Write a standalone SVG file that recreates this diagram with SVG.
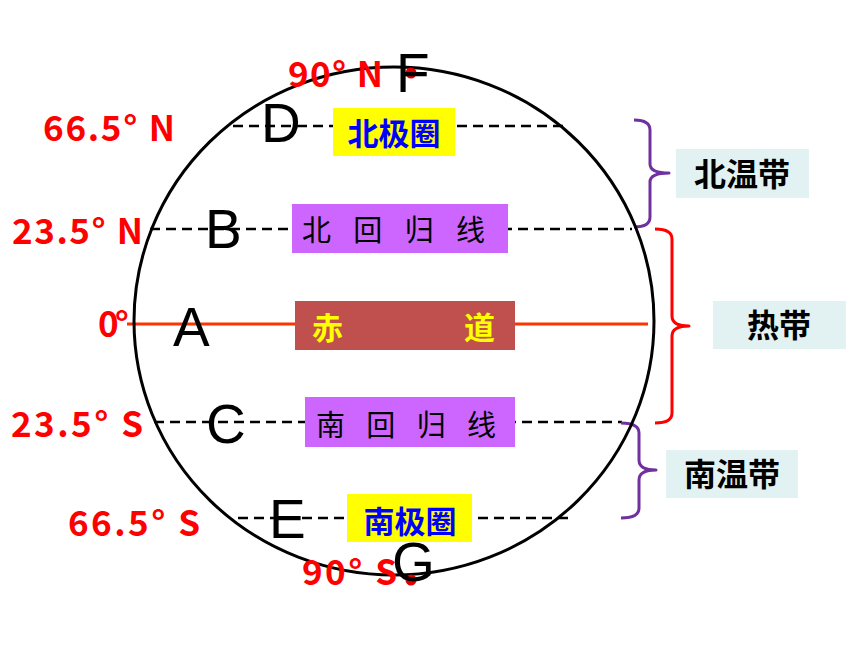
<svg xmlns="http://www.w3.org/2000/svg" width="860" height="645" viewBox="0 0 860 645">
<style>
.lat{font-family:"Noto Sans CJK SC","Liberation Sans",sans-serif;font-size:35px;font-weight:bold;fill:#FF0000}
.let{font-family:"Liberation Sans",sans-serif;font-size:55px;fill:#000}
.cjk{font-family:"Noto Sans CJK SC",sans-serif}
.dash{stroke:#000;stroke-width:2.5;stroke-dasharray:10 6;fill:none}
.brace{fill:none;stroke-width:3;stroke-linejoin:round}
.zone{fill:#E2F1F1}
.zt{font-family:"Noto Sans CJK SC",sans-serif;font-size:32px;font-weight:bold;fill:#000;text-anchor:middle}
</style>
<rect width="860" height="645" fill="#fff"/>
<g id="connectors">
<line class="dash" x1="233" y1="126" x2="565" y2="126"/>
<line class="dash" x1="150" y1="229" x2="632" y2="229"/>
<line x1="127" y1="324" x2="648" y2="324" stroke="#FF3300" stroke-width="3"/>
<line class="dash" x1="154" y1="422" x2="622" y2="422"/>
<line class="dash" x1="238" y1="518" x2="570" y2="518"/>
<path class="brace" stroke="#7030A0" d="M634,120 Q650,120 650,130 L650,164 Q650,173 669,173 Q650,173 650,182 L650,217 Q650,227 634,227"/>
<path class="brace" stroke="#FF0000" d="M655,229 Q672,229 672,239 L672,316 Q672,326 689,326 Q672,326 672,336 L672,413 Q672,423 655,423"/>
<path class="brace" stroke="#7030A0" d="M621,423 Q639,423 639,433 L639,460 Q639,470 656,470 Q639,470 639,480 L639,508 Q639,518 621,518"/>
</g>
<g id="earth">
<ellipse cx="394" cy="321" rx="260" ry="254" fill="none" stroke="#000" stroke-width="3"/>
</g>
<g id="arctic-circle">
<rect x="333" y="108" width="122" height="48" fill="#FFFF00"/>
<text class="cjk" x="394" y="145" font-size="31" font-weight="bold" fill="#0000FF" text-anchor="middle">北极圈</text>
</g>
<g id="tropic-cancer">
<rect x="292" y="204" width="216" height="49" fill="#CC66FF"/>
<text class="cjk" x="302" y="241" font-size="29" fill="#000" textLength="183" lengthAdjust="spacing">北回归线</text>
</g>
<g id="equator">
<rect x="295" y="301" width="220" height="49" fill="#C0504D"/>
<text class="cjk" font-size="31" font-weight="bold" fill="#FFFF00" y="339"><tspan x="312">赤</tspan><tspan x="464">道</tspan></text>
</g>
<g id="tropic-capricorn">
<rect x="305" y="397" width="210" height="50" fill="#CC66FF"/>
<text class="cjk" x="316" y="436" font-size="29" fill="#000" textLength="180" lengthAdjust="spacing">南回归线</text>
</g>
<g id="antarctic-circle">
<rect x="347" y="494" width="125" height="48" fill="#FFFF00"/>
<text class="cjk" x="410" y="533" font-size="31" font-weight="bold" fill="#0000FF" text-anchor="middle">南极圈</text>
</g>
<g id="north-pole">
<circle cx="411" cy="73" r="5.5" fill="#E00000"/>
<text class="lat" x="288" y="87" textLength="95" lengthAdjust="spacing">90° N</text>
<text class="let" x="396" y="92">F</text>
</g>
<g id="south-pole">
<circle cx="411" cy="580" r="5.5" fill="#E00000"/>
<text class="lat" x="302" y="585" textLength="95" lengthAdjust="spacing">90° S</text>
<text class="let" x="392" y="581">G</text>
</g>
<g id="lat-labels">
<text class="lat" x="43" y="141" textLength="132" lengthAdjust="spacing">66.5° N</text>
<text class="lat" x="12" y="244" textLength="131" lengthAdjust="spacing">23.5° N</text>
<text class="lat" x="98" y="337" textLength="31" lengthAdjust="spacing">0°</text>
<text class="lat" x="11" y="437" textLength="132" lengthAdjust="spacing">23.5° S</text>
<text class="lat" x="68" y="536" textLength="132" lengthAdjust="spacing">66.5° S</text>
</g>
<g id="letters">
<text class="let" x="261" y="142">D</text>
<text class="let" x="205" y="248">B</text>
<text class="let" x="173" y="346">A</text>
<text class="let" x="206" y="443">C</text>
<text class="let" x="269" y="538">E</text>
</g>
<g id="north-temperate">
<rect class="zone" x="676" y="149" width="133" height="49"/>
<text class="zt" x="742" y="186">北温带</text>
</g>
<g id="tropics">
<rect class="zone" x="713" y="301" width="133" height="48"/>
<text class="zt" x="779" y="337">热带</text>
</g>
<g id="south-temperate">
<rect class="zone" x="666" y="450" width="132" height="48"/>
<text class="zt" x="732" y="486">南温带</text>
</g>
</svg>
